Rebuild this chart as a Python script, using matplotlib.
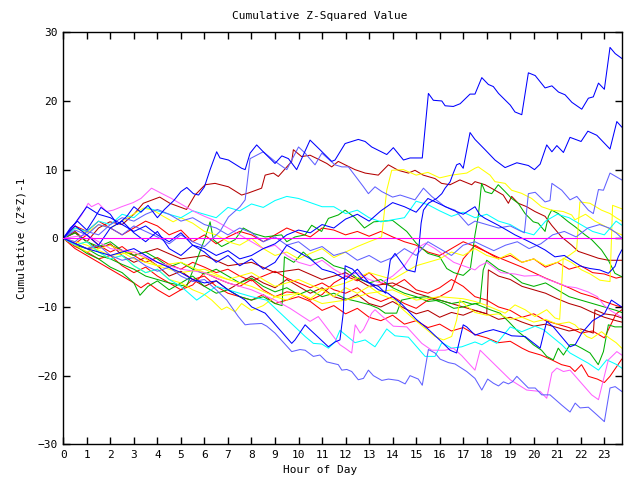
import matplotlib
matplotlib.use("Agg")
import matplotlib.pyplot as plt

# ---------------- data ----------------
H2 = [i * 0.5 for i in range(48)] + [23.75]

A_h = [0,0.3,0.6,1.0,1.3,1.6,2.0,2.3,2.7,3.0,3.3,3.6,4.0,4.3,4.7,5.0,5.25,5.53,5.75,6.0,6.24,6.52,6.66,7.02,7.58,7.73,7.94,8.22,8.5,9.0,9.29,9.57,9.92,10.49,10.91,11.41,11.55,11.98,12.54,12.83,13.11,13.75,14.03,14.46,14.74,15.26,15.52,15.73,16.09,16.23,16.58,16.87,17.29,17.5,17.79,18.07,18.28,18.5,19.0,19.2,19.49,19.77,20.06,20.48,20.77,21.05,21.33,21.62,22.04,22.32,22.53,22.75,23.0,23.24,23.46,23.74]
A_v = [0,1.5,2.5,1.2,2.8,4.5,3.5,2.0,3.2,4.6,3.8,4.8,3.0,4.2,5.5,6.8,7.4,6.5,6.3,7.5,10.0,12.6,11.7,11.4,10.2,10.0,12.4,13.6,12.6,10.9,12.0,11.6,10.0,14.3,12.9,11.2,11.4,13.8,14.4,14.1,13.3,12.2,13.2,11.4,11.7,11.7,21.1,20.1,20.0,19.3,19.2,19.6,21.0,21.0,23.4,22.4,22.1,21.1,19.4,18.4,18.0,24.1,23.7,21.9,22.2,21.3,20.9,19.8,18.8,20.4,20.6,22.6,21.7,27.8,26.9,26.2]

B_h = [0,0.5,1.0,1.5,2.0,2.5,3.0,3.5,4.0,4.5,5.0,5.5,6.0,6.5,7.0,7.5,8.0,8.5,9.0,9.5,10.0,10.5,11.0,11.5,12.0,12.5,13.0,13.4,13.7,13.9,14.1,14.6,14.95,15.1,15.21,15.31,15.52,15.87,16.09,16.23,16.44,16.58,16.72,16.85,17.0,17.29,17.5,17.93,18.35,18.78,19.28,19.77,20.03,20.27,20.55,20.77,20.98,21.26,21.54,22.01,22.3,22.68,23.24,23.53,23.74]
B_v = [0,1.8,0.5,-1.0,1.5,2.5,0.8,-0.5,1.0,-1.5,-2.5,-1.0,-2.0,-3.5,-2.5,-4.0,-3.0,-4.5,-3.5,-1.0,-2.0,-3.0,-4.5,-5.0,-6.0,-4.5,-6.5,-7.0,-8.0,-3.2,-2.2,-4.6,-4.9,-1.9,2.2,4.1,5.1,5.8,6.5,7.3,8.2,9.5,10.7,10.9,10.2,15.4,14.4,12.9,11.4,10.3,11.0,10.6,10.0,10.8,13.6,12.6,13.5,12.5,14.7,14.1,15.6,15.0,13.0,17.0,16.2]

C_h = [0,0.5,1.0,1.5,2.0,2.5,3.0,3.5,4.0,4.5,5.0,5.5,6.0,6.5,6.95,7.44,7.73,7.94,8.43,8.65,9.0,9.71,10.06,10.28,10.63,10.91,11.2,11.69,11.84,12.05,12.26,12.54,12.76,12.97,13.18,13.54,13.82,14.24,14.53,14.74,15.09,15.26,15.52,15.8,16.02,16.37,16.65,17.15,17.5,17.79,18.04,18.28,18.5,18.71,18.92,19.09,19.28,19.77,20.06,20.34,20.69,21.19,21.54,21.76,21.97,22.32,22.68,23.0,23.24,23.46,23.74]
C_v = [0,-0.8,-1.5,-1.0,-2.5,-3.2,-2.8,-4.0,-4.8,-4.2,-5.5,-6.3,-6.0,-7.5,-9.0,-11.4,-12.6,-12.5,-12.4,-12.8,-13.8,-16.5,-16.2,-16.3,-17.2,-17.0,-18.0,-18.4,-19.2,-19.1,-19.4,-20.6,-20.4,-19.2,-20.0,-20.7,-20.5,-20.7,-21.2,-20.0,-20.5,-21.4,-16.2,-16.7,-17.6,-18.1,-18.3,-19.4,-20.4,-22.1,-20.5,-21.1,-21.5,-20.9,-21.2,-20.9,-20.1,-21.8,-21.8,-22.8,-22.8,-24.3,-25.3,-24.0,-24.7,-24.6,-25.7,-26.7,-21.8,-21.6,-22.3]

D_h = [0,1,2,3,4,5,6,7,8,9,9.64,10.49,10.84,11.55,11.76,11.98,12.26,12.41,12.62,12.76,13.11,13.25,14.03,14.6,15.24,15.66,16.23,16.58,16.94,17.5,17.72,19.0,19.7,20.27,20.55,20.77,20.98,21.26,21.54,22.46,22.75,23.17,23.53,23.74]
D_v = [0,0.5,-1.5,-2.0,-3.5,-4.5,-5.0,-6.5,-7.5,-9.0,-10.2,-12.1,-11.4,-14.6,-15.5,-16.0,-16.7,-12.6,-13.8,-13.3,-10.9,-10.4,-12.8,-12.9,-15.3,-16.3,-16.3,-16.0,-17.1,-19.2,-16.3,-20.6,-22.1,-22.3,-23.3,-19.6,-18.9,-19.4,-19.2,-22.8,-23.5,-17.7,-16.5,-17.0]

E_h = [0,0.5,1,1.5,2,2.5,3,3.5,4,4.5,5,5.67,6.0,6.5,7.0,7.5,8.0,8.64,9.85,10.28,10.63,10.99,11.27,11.55,11.76,12.4,12.83,13.25,13.75,14.1,14.67,15.38,15.8,16.09,16.51,16.94,17.5,17.79,18.14,18.43,19.0,19.49,20.06,20.41,21.19,21.54,22.32,22.75,23.1,23.53,23.74]
E_v = [0,-1.0,-0.5,-2.0,-3.0,-2.5,-4.0,-5.0,-4.5,-6.0,-7.0,-9.0,-8.2,-7.0,-7.5,-8.0,-8.5,-9.0,-12.9,-14.3,-15.3,-15.4,-16.0,-15.1,-13.4,-15.2,-14.8,-15.8,-13.2,-14.2,-14.4,-17.2,-17.2,-15.2,-16.0,-15.8,-15.1,-15.5,-14.8,-15.3,-12.9,-13.6,-12.8,-13.3,-15.5,-16.7,-18.2,-19.2,-17.7,-18.4,-18.9]

F_h = [0,0.5,1,1.5,2,2.5,3,3.5,4,4.5,5,5.5,6,6.3,6.66,7.02,7.51,7.73,7.94,8.5,9.0,9.5,10.0,10.28,10.7,10.99,11.55,11.84,12.12,12.76,12.97,13.25,13.54,14.0,14.32,14.95,15.31,15.66,16.23,16.65,17.22,17.5,18.0,18.5,19.0,19.35,19.6,19.77,20.06,20.48,20.69,20.77,21.19,21.54,21.83,22.32,22.53,22.75,22.96,23.24,23.74]
F_v = [0,1.2,0.5,2.0,1.5,0.5,1.8,1.0,0.2,-0.8,0.5,-0.5,-1.2,-0.2,1.0,3.1,4.6,5.6,11.6,12.6,11.2,10.0,13.3,12.4,10.7,12.4,10.7,10.4,10.4,7.5,6.5,7.5,6.8,6.0,6.3,5.6,7.3,6.1,4.6,4.1,1.9,2.5,2.0,1.5,1.8,1.2,0.8,6.5,6.7,5.3,5.5,8.0,7.0,5.6,6.1,4.1,3.6,7.1,7.0,9.5,8.5]

G1_h = [0,0.5,1,1.5,2,2.5,3,3.5,4,4.5,5.24,5.52,6.02,6.24,6.38,6.73,7.3,7.65,8.08,8.58,9.28,9.5,9.85,10.28,10.56,10.98,11.27,11.69,11.98,12.4,12.8,13.2,14.0,14.6,15.0,15.5,16.0,16.3,16.6,17.0,17.3,17.5,17.64,17.78,17.93,18.21,18.49,18.78,19.06,19.34,19.63,19.98,20.19,20.48,20.62,20.76,21.04,21.47,21.75,22.18,22.46,22.88,23.17,23.45,23.74]
G1_v = [0,-1.0,-1.5,-2.5,-3.0,-3.8,-4.5,-5.5,-6.0,-6.5,-7.0,-4.6,0.0,2.4,-0.2,-1.2,-0.2,1.5,0.7,0.2,0.5,-0.5,0.2,0.5,1.9,1.0,2.9,3.4,4.1,3.0,1.5,2.4,2.6,1.0,-0.7,-2.2,-2.7,-4.4,-5.0,-5.4,-4.5,0.5,3.2,8.0,6.8,6.5,7.8,6.8,5.8,5.1,3.6,2.4,2.2,1.0,3.2,4.1,3.6,2.4,1.7,0.5,-0.2,-1.7,-3.2,-5.1,-5.6]

G2_h = [0,0.5,1,1.5,2,2.5,3,3.5,4,4.5,5,5.5,6,6.5,7,7.5,8,8.5,9,9.5,10,10.5,11,11.5,12,12.5,13.04,13.39,13.68,14.17,14.38,14.8,15.45,15.8,16.2,16.6,17.0,17.5,18.14,18.56,18.92,19.34,19.7,19.98,20.33,20.55,20.83,21.04,21.26,21.54,21.75,22.03,22.39,22.74,22.96,23.17,23.45,23.74]
G2_v = [0,0.8,-0.5,-1.2,-0.5,-1.8,-2.5,-2.0,-3.0,-4.2,-3.5,-4.5,-5.2,-4.5,-5.5,-6.5,-5.8,-7.0,-7.8,-7.2,-8.2,-7.5,-8.5,-8.0,-8.8,-9.2,-9.7,-10.2,-10.9,-10.9,-9.0,-8.7,-8.5,-9.0,-9.5,-10.2,-10.0,-9.5,-10.4,-10.9,-12.1,-13.6,-14.6,-15.5,-16.3,-17.2,-17.7,-16.0,-17.0,-15.5,-15.5,-16.0,-16.7,-18.4,-16.5,-12.6,-12.9,-12.9]

G3_h = [0,0.5,1,1.5,2,2.5,3,3.26,3.6,4,4.5,5,5.5,6,6.5,7,7.5,8,8.5,9.0,9.3,9.4,9.8,10.2,10.6,11,11.5,12,12.5,13,13.5,14,14.5,15,15.5,16,16.5,17,17.4,17.71,17.85,18.0,18.5,19,19.5,20,20.5,21,21.5,22,22.5,23,23.5,23.74]
G3_v = [0,-1.0,-2.2,-3.0,-4.2,-5.0,-6.5,-8.3,-7.0,-6.2,-7.5,-6.5,-5.5,-7.0,-8.0,-7.5,-8.5,-9.0,-8.5,-9.5,-9.8,-2.7,-3.5,-2.0,-3.2,-2.8,-4.0,-4.5,-5.8,-6.5,-6.0,-7.2,-8.0,-8.5,-9.2,-9.0,-9.5,-9.2,-9.6,-9.4,-4.6,-3.2,-4.5,-5.2,-6.5,-7.0,-6.5,-7.5,-8.5,-9.0,-9.5,-10.0,-10.5,-10.8]

J_h = [0,1,2,3,4,5,5.5,6,6.5,7,7.5,7.73,8.01,8.58,9.71,9.85,10.28,10.49,11.27,11.55,11.76,11.9,11.98,12.3,12.7,13.0,13.4,13.8,14.17,14.39,15.0,15.5,16.09,16.44,16.72,17.0,17.15,17.5,17.93,18.28,18.78,19.06,19.63,20.27,20.55,20.83,21.54,21.76,22.04,22.5,23.0,23.3,23.74]
J_v = [0,-1.5,-2.5,-1.5,-3.5,-5.0,-6.0,-6.5,-6.2,-7.5,-8.5,-9.0,-10.0,-10.9,-15.3,-14.8,-12.6,-13.3,-15.8,-15.1,-14.8,-10.9,-4.0,-4.5,-6.0,-6.5,-7.5,-8.0,-9.0,-9.6,-11.8,-13.2,-15.1,-16.3,-16.7,-12.6,-12.9,-14.1,-13.6,-13.3,-13.8,-14.2,-14.3,-16.0,-12.1,-12.9,-15.8,-15.5,-13.8,-12.0,-11.0,-9.0,-10.0]

DR1_h = [0,0.5,1.0,1.5,1.98,2.5,3.0,3.4,4.1,4.53,5.24,5.6,6.03,6.45,7.02,7.58,7.87,8.43,8.58,8.93,9.14,9.71,9.78,10.13,10.49,10.91,11.2,11.41,11.69,11.98,12.4,12.83,13.39,13.82,14.24,14.67,14.95,15.3,15.8,16.08,16.44,16.86,17.36,17.5,17.93,18.35,18.7,18.92,19.06,19.34,19.7,20.05,20.48,20.76,21.18,21.61,21.89,22.32,22.74,23.17,23.74]
DR1_v = [0,1.0,-0.5,1.5,2.4,2.0,3.5,5.1,6.0,5.1,4.2,6.3,7.8,8.0,7.5,6.3,6.6,7.3,9.2,9.5,9.0,11.2,12.9,11.9,12.1,11.4,10.9,10.4,11.2,10.7,10.0,9.5,9.2,10.7,9.9,9.5,9.9,9.2,8.7,8.0,7.8,8.5,7.8,8.25,7.8,7.0,6.3,5.1,6.1,5.1,4.6,3.9,3.2,1.9,0.2,-1.0,-1.9,-2.4,-2.9,-3.2,-3.2]

DR2_h = [0,0.5,1,1.5,2,2.5,3,3.5,4,4.5,5,5.5,6,6.5,7,7.5,8,8.5,9,9.5,10,10.5,11,11.5,12,12.5,13,13.5,14,14.5,15,15.5,16,16.5,17,17.5,18,18.5,19,19.5,20,20.5,21,21.5,22,22.53,22.6,23.0,23.4,23.74]
DR2_v = [0,0.8,-0.5,-1.5,-0.8,-2.5,-3.5,-2.8,-4.0,-5.5,-4.8,-6.0,-7.0,-6.2,-7.5,-6.5,-5.5,-6.5,-7.2,-6.0,-7.0,-8.0,-7.2,-8.5,-9.0,-8.2,-9.5,-10.0,-9.2,-10.2,-11.0,-10.5,-11.5,-10.8,-11.2,-10.5,-11.0,-11.8,-11.5,-12.2,-12.8,-12.5,-13.0,-13.5,-13.2,-13.8,-10.4,-11.0,-11.2,-11.6]

DR3_h = [0,1,2,3,4,5,6,7,8,9,10,11,12,13,14,15,16,17,17.5,18.0,18.07,18.5,19,19.5,20,20.5,21,21.5,22,22.5,23,23.5,23.74]
DR3_v = [0,-1.5,-1,-2.5,-1.5,-3,-2.5,-4,-3.5,-5,-4.5,-6,-5,-7,-6.5,-8,-9,-10,-10.5,-11.0,-4.6,-5.5,-6.0,-7.0,-7.5,-8.0,-8.8,-9.5,-10.0,-10.8,-11.5,-12.0,-12.2]

Y1_h = [0,0.5,1,1.5,2,2.5,2.83,3.4,3.82,4.25,4.67,5,5.5,6,6.5,7,7.5,8,8.5,9,9.5,10,10.5,11,11.5,12,12.5,13,13.53,13.75,13.96,14.46,15,15.5,16,16.5,17.15,17.5,17.64,18.14,18.35,18.78,19.06,19.48,19.91,20.33,20.76,21.25,21.61,21.75,22.2,22.6,23.0,23.4,23.74]
Y1_v = [0,1.5,0.8,2.0,1.5,2.5,3.2,4.4,4.1,3.2,2.4,3.0,2.2,1.0,0.5,-0.5,-1.0,0.0,-1.5,-2.5,-2.0,-3.0,-2.2,-1.5,-2.8,-2.0,-1.2,-0.5,0.2,7.0,9.9,10.0,9.2,9.6,8.8,9.2,9.5,10.2,10.4,9.2,8.25,8.0,7.0,6.55,5.8,4.6,4.1,3.9,3.4,2.7,3.5,2.5,1.8,1.0,0.5]

Y2_h = [0,1,2,3,4,5,6,7,8,9,10,11,12,13,14,15,16,16.5,17,17.5,18,18.5,19,19.5,20,20.5,21,21.5,21.82,21.96,22.39,22.88,23.24,23.5,23.74]
Y2_v = [0,-2,-1,-3,-4,-3.5,-5,-6,-5,-7,-6,-7.5,-6.5,-5,-6,-4,-3,-2,-2.5,-1.5,-2.5,-3.0,-2.2,-3.5,-3.0,-4.0,-3.5,-2.5,-1.7,5.3,5.1,4.1,3.6,3.0,2.5]

Y3_h = [0,1,2,3,4,5,6,7,8,9,10,11,12,13,14,15,16,17,17.5,17.93,18.78,19.2,19.63,20.05,20.55,20.9,21.1,21.25,21.6,22.03,22.4,22.81,23.24,23.35,23.74]
Y3_v = [0,-1,-2.5,-2,-4,-5,-4.5,-6,-7,-8.5,-8,-9.5,-9,-8,-7.5,-9,-8.5,-8.8,-9.2,-9.7,-10.9,-9.7,-10.4,-11.4,-10.4,-11.6,-11.8,-2.9,-3.5,-4.6,-5.2,-6.1,-6.3,4.8,4.3]

Y4_h = [0,0.5,1,1.5,2,2.5,3,3.5,4,4.5,5,5.5,6,6.31,6.73,6.95,7.3,7.58,8,8.5,9,9.5,10,10.5,11,11.5,12,12.5,13,13.5,14.1,14.38,14.95,15.45,15.8,16.16,16.51,16.72,16.86,17.2,17.5,18,18.5,19,19.5,20,20.5,21,21.5,21.75,22.25,22.46,22.88,23.2,23.5,23.74]
Y4_v = [0,-1.0,-0.5,-2.0,-3.0,-2.5,-4.0,-5.0,-4.5,-6.0,-6.5,-7.5,-8.2,-9.0,-10.4,-10.0,-10.7,-9.5,-10.5,-9.8,-8.5,-9.0,-8.0,-8.8,-7.5,-8.5,-7.2,-8.0,-7.0,-8.2,-9.0,-10.2,-11.9,-13.3,-14.3,-14.8,-14.3,-11.9,-9.0,-10.0,-10.8,-11.2,-11.0,-11.8,-11.5,-12.2,-11.8,-12.5,-12.2,-12.6,-14.3,-14.6,-13.6,-14.5,-15.2,-16.0]

C1_v = [0,1.5,1,2.5,2,3.5,3,4.5,4,3.5,3,4,3.5,3,4.5,4,5,4.5,5.5,6.1,5.8,5.2,4.6,4.6,3.6,4.1,3.0,2.4,2.7,3.0,5.4,4.9,4.0,3.2,3.8,3.0,3.5,2.5,2.0,1.0,0.5,2.5,3.5,3.0,2.0,1.0,0.5,2.5,1.9]

LB2_h = [0,0.5,1,1.5,2,2.5,3,3.5,4,4.5,5,5.5,6,6.5,7,7.5,8,8.5,9,9.5,10,10.5,11,11.5,12,12.5,13,13.5,14,14.5,15,15.5,16,16.5,17,17.5,17.8,18.3,18.8,19.3,19.8,20.3,20.8,21.3,21.8,22.3,22.8,23.2,23.5,23.75]
LB2_v = [0,-0.5,1.0,0.5,2.0,3.0,2.5,3.5,4.2,3.5,2.5,3.0,2.0,1.5,0.5,1.5,0.8,-0.5,0.2,-1.0,-0.5,-1.8,-1.2,-2.5,-2.0,-3.2,-2.5,-3.5,-2.8,-1.5,-2.5,-0.5,-1.5,-2.5,-1.0,-0.5,-1.0,-1.8,-1.0,-0.5,-1.5,-0.8,0.5,1.0,0.2,1.5,2.0,1.5,0.8,0.0]

B3_h = [0,0.5,1,1.5,2,2.5,3,3.5,4,4.5,5,5.5,6,6.5,7,7.5,8,8.5,9,9.5,10,10.5,11,11.5,12,12.5,13,13.5,14,14.5,15,15.5,16,16.5,17,17.5,17.71,17.93,18.49,18.85,19.2,19.63,20.1,20.48,20.9,21.3,21.61,22.03,22.39,22.8,23.17,23.45,23.59,23.74]
B3_v = [0,2.2,4.6,3.5,3.0,2.0,1.0,1.8,0.5,-0.5,0.8,-1.0,-1.5,-2.5,-1.8,-3.0,-2.5,-1.5,-0.8,0.5,1.2,0.8,2.0,1.5,2.8,3.5,2.5,4.0,5.2,4.6,3.8,5.8,5.0,4.2,3.5,4.6,3.4,2.9,1.9,1.2,0.5,-0.2,-1.0,-1.7,-2.7,-2.5,-3.2,-4.1,-4.4,-4.6,-5.1,-4.1,-2.7,-1.7]

R1_h = [0,0.5,1,1.5,2,2.5,3,3.3,3.6,4,4.5,5,5.5,6,6.5,7,7.5,8,8.5,9,9.5,10,10.5,11,11.5,12,12.5,13,13.5,14,14.5,15,15.5,16,16.5,17,17.5,18,18.5,19,19.5,19.8,20.3,20.76,21.18,21.54,21.75,22.03,22.32,22.7,23.0,23.24,23.5,23.74]
R1_v = [0,-1.5,-2.5,-3.5,-4.5,-5.5,-6.5,-7.2,-6.5,-7.5,-8.5,-7.5,-6.0,-5.5,-7.0,-8.0,-8.5,-9.0,-8.2,-9.5,-9.0,-8.5,-9.2,-10.5,-9.8,-11.0,-10.2,-11.5,-12.0,-11.2,-12.5,-12.0,-13.0,-12.5,-13.5,-13.0,-14.0,-14.5,-15.2,-15.0,-16.0,-16.5,-17.0,-17.7,-18.4,-18.7,-19.4,-18.4,-20.1,-20.5,-21.0,-20.1,-18.8,-17.6]

R2_v = [0,-1.2,-2.0,-3.0,-2.5,-4.0,-5.0,-4.2,-5.5,-6.5,-7.5,-6.8,-5.0,-5.8,-6.5,-7.0,-6.0,-7.5,-8.5,-7.8,-8.0,-9.0,-8.2,-6.5,-5.5,-6.2,-5.0,-6.5,-7.0,-6.0,-7.5,-8.0,-7.2,-6.0,-7.0,-8.5,-9.0,-10.0,-10.5,-11.5,-11.0,-12.0,-12.5,-13.0,-13.8,-13.5,-14.5,-11.0,-10.4]

R3_v = [0,1.8,1.0,2.5,1.5,0.5,1.5,2.5,1.8,0.5,1.2,-0.5,0.5,-0.8,0.2,1.0,0.5,-0.5,0.5,1.5,0.8,0.2,1.5,1.2,0.5,1.0,0.3,1.0,0.2,-0.5,-1.0,-2.0,-2.5,-1.5,-0.5,-1.2,-2.0,-3.0,-2.5,-3.5,-3.0,-4.2,-3.5,-4.5,-4.0,-5.0,-5.2,-5.8,-5.6]

R4_v = [0,-0.8,0.5,-1.0,-2.0,-1.2,-2.5,-3.5,-2.8,-3.8,-4.5,-3.5,-4.2,-5.0,-4.5,-5.5,-6.2,-5.5,-4.8,-5.8,-6.5,-7.2,-6.5,-7.5,-8.0,-7.2,-8.5,-9.2,-8.5,-9.5,-10.2,-9.0,-8.5,-7.5,-3.0,-1.0,-2.0,-2.8,-3.5,-4.2,-5.0,-5.8,-6.5,-7.2,-8.0,-8.5,-9.2,-9.8,-10.0]

P1_h = [0,0.28,0.78,1.06,1.2,1.49,1.84,2.12,2.48,2.97,3.3,3.75,4.2,4.6,5.0,5.5,6.0,6.5,7.0,7.5,8.0,8.5,9.0,9.5,10.0,10.5,11.0,11.5,12.0,12.5,13.0,13.5,14.0,14.5,15.0,15.4,15.8,16.2,16.6,17.0,17.5,17.7,18.0,18.6,19.2,19.6,20.2,20.6,21.0,21.4,21.8,22.3,22.7,23.0,23.3,23.74]
P1_v = [0,1,3.4,5.1,4.6,5.1,3.9,4.1,4.6,5.2,5.8,7.3,6.5,5.8,5.0,4.0,3.2,2.5,1.5,0.5,-0.5,-1.5,-1.0,-2.5,-3.5,-4.0,-3.2,-4.5,-5.5,-5.0,-6.0,-6.5,-5.5,-4.0,-1.5,-0.7,-1.5,-2.5,-3.5,-4.0,-4.6,-4.0,-3.5,-5.0,-5.2,-5.5,-5.4,-6.0,-6.5,-7.0,-7.2,-7.8,-8.5,-9.8,-10.6,-11.5]

XTICKS = list(range(24))
YTICKS = [-30, -20, -10, 0, 10, 20, 30]

# ---------------- colours ----------------
BLUE = "#0000ff"
LBLUE = "#6060ff"
RED = "#ff0000"
DRED = "#b40000"
GREEN = "#00b000"
MAG = "#ff00ff"
PINK = "#ff60ff"
CYAN = "#00ffff"
YEL = "#ffff00"

series = [
    (R1_h, R1_v, RED), (H2, R2_v, RED), (H2, R3_v, RED), (H2, R4_v, RED),
    (DR1_h, DR1_v, DRED), (DR2_h, DR2_v, DRED), (DR3_h, DR3_v, DRED),
    (G1_h, G1_v, GREEN), (G2_h, G2_v, GREEN), (G3_h, G3_v, GREEN),
    (Y1_h, Y1_v, YEL), (Y2_h, Y2_v, YEL), (Y3_h, Y3_v, YEL), (Y4_h, Y4_v, YEL),
    (H2, C1_v, CYAN), (E_h, E_v, CYAN),
    (P1_h, P1_v, PINK), (D_h, D_v, PINK),
    (C_h, C_v, LBLUE), (F_h, F_v, LBLUE), (LB2_h, LB2_v, LBLUE),
    (J_h, J_v, BLUE), (B3_h, B3_v, BLUE), (B_h, B_v, BLUE), (A_h, A_v, BLUE),
]

plt.rcParams['font.family'] = ['DejaVu Sans Mono', 'DejaVu Sans']

fig = plt.figure(figsize=(6.4, 4.8), dpi=100)
ax = fig.add_axes([63.3 / 640, 1 - 444.3 / 480, (622 - 63.3) / 640, (444.3 - 32.3) / 480])

for h, v, c in series:
    ax.plot(h, v, color=c, lw=0.75)
ax.axhline(0, color=MAG, lw=0.8, zorder=5)

ax.set_xlim(0, 23.75)
ax.set_ylim(-30, 30)
ax.set_xticks(XTICKS)
ax.set_yticks(YTICKS)
ax.tick_params(direction='in', top=True, right=True, length=5, width=1,
               labelsize=8, pad=4)
for s in ax.spines.values():
    s.set_linewidth(1)

fig.text(0.5, 1 - 16 / 480, "Cumulative Z-Squared Value", ha='center', va='center', fontsize=8)
fig.text(0.5, 1 - 470 / 480, "Hour of Day", ha='center', va='center', fontsize=8)
fig.text(22 / 640, 0.5 - (238 - 240) / 480, "Cumulative (Z*Z)-1", rotation=90,
         ha='center', va='center', fontsize=8)

fig.savefig("out.png", dpi=100)
